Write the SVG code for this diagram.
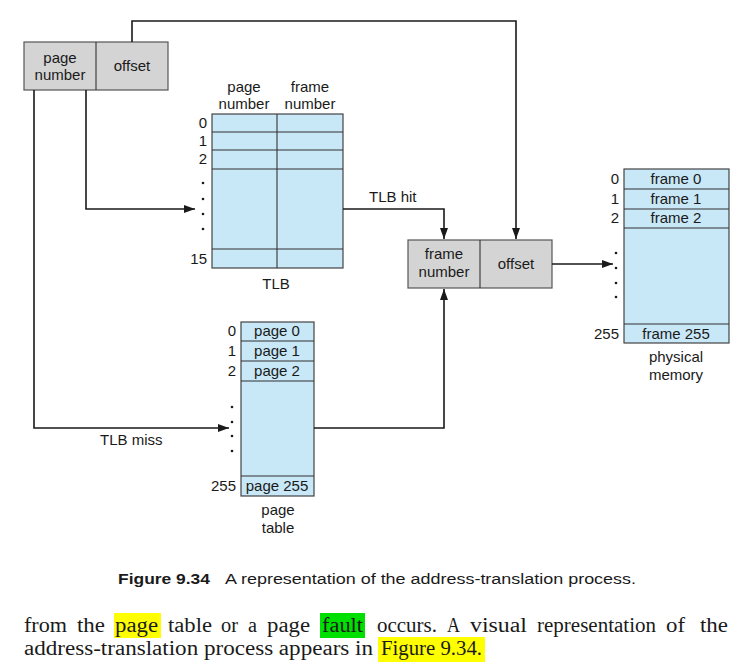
<svg xmlns="http://www.w3.org/2000/svg" width="753" height="668" viewBox="0 0 753 668">
<style>
text{font-family:"Liberation Sans",Arial,sans-serif;font-size:15px;fill:#1a1a1a}
.c{text-anchor:middle}
.r{text-anchor:end}
.gray{fill:#d4d4d4;stroke:#555;stroke-width:1.2}
.blue{fill:#c8e7f7;stroke:#444;stroke-width:1.2}
.ln{stroke:#333;stroke-width:1.1;fill:none}
.wire{stroke:#1a1a1a;stroke-width:1.6;fill:none}
.dot{fill:#1a1a1a}
.cap{font-size:15.5px}
.body{font-family:"Liberation Serif","Times New Roman",serif;font-size:20px;fill:#1a1a1a}
</style>
<defs>
<marker id="ah" markerWidth="12" markerHeight="10" refX="11" refY="5" orient="auto" markerUnits="userSpaceOnUse">
<path d="M0,1 L11,5 L0,9 Z" fill="#1a1a1a"/>
</marker>
</defs>

<g id="logical-address">
<rect class="gray" x="24" y="42" width="144" height="48"/>
<line class="ln" x1="96" y1="42" x2="96" y2="90"/>
<text class="c" x="60" y="63">page</text>
<text class="c" x="60" y="80">number</text>
<text class="c" x="132" y="71">offset</text>
</g>

<g id="tlb">
<rect class="blue" x="212" y="114" width="131" height="154"/>
<line class="ln" x1="212" y1="132" x2="343" y2="132"/>
<line class="ln" x1="212" y1="150" x2="343" y2="150"/>
<line class="ln" x1="212" y1="169" x2="343" y2="169"/>
<line class="ln" x1="212" y1="249" x2="343" y2="249"/>
<line class="ln" x1="277" y1="114" x2="277" y2="268"/>
<text class="c" x="244" y="92">page</text>
<text class="c" x="244" y="109">number</text>
<text class="c" x="310" y="92">frame</text>
<text class="c" x="310" y="109">number</text>
<text class="r" x="207" y="128">0</text>
<text class="r" x="207" y="146">1</text>
<text class="r" x="207" y="164">2</text>
<text class="r" x="207" y="264">15</text>
<circle class="dot" cx="203" cy="183" r="1.3"/>
<circle class="dot" cx="203" cy="199" r="1.3"/>
<circle class="dot" cx="203" cy="214" r="1.3"/>
<circle class="dot" cx="203" cy="229" r="1.3"/>
<text class="c" x="276" y="289">TLB</text>
</g>

<g id="physical-address">
<rect class="gray" x="408" y="240" width="144" height="48"/>
<line class="ln" x1="480" y1="240" x2="480" y2="288"/>
<text class="c" x="444" y="259">frame</text>
<text class="c" x="444" y="277">number</text>
<text class="c" x="516" y="269">offset</text>
</g>

<g id="physical-memory">
<rect class="blue" x="624" y="169" width="105" height="174"/>
<line class="ln" x1="624" y1="189" x2="729" y2="189"/>
<line class="ln" x1="624" y1="209" x2="729" y2="209"/>
<line class="ln" x1="624" y1="228" x2="729" y2="228"/>
<line class="ln" x1="624" y1="324" x2="729" y2="324"/>
<text class="c" x="676" y="184">frame 0</text>
<text class="c" x="676" y="204">frame 1</text>
<text class="c" x="676" y="223">frame 2</text>
<text class="c" x="676" y="339">frame 255</text>
<text class="r" x="619" y="184">0</text>
<text class="r" x="619" y="204">1</text>
<text class="r" x="619" y="223">2</text>
<text class="r" x="619" y="339">255</text>
<circle class="dot" cx="616" cy="253" r="1.3"/>
<circle class="dot" cx="616" cy="268" r="1.3"/>
<circle class="dot" cx="616" cy="283" r="1.3"/>
<circle class="dot" cx="616" cy="297" r="1.3"/>
<text class="c" x="676" y="362">physical</text>
<text class="c" x="676" y="380">memory</text>
</g>

<g id="page-table">
<rect class="blue" x="241" y="322" width="73" height="174"/>
<line class="ln" x1="241" y1="341" x2="314" y2="341"/>
<line class="ln" x1="241" y1="361" x2="314" y2="361"/>
<line class="ln" x1="241" y1="381" x2="314" y2="381"/>
<line class="ln" x1="241" y1="476" x2="314" y2="476"/>
<text class="c" x="277" y="336">page 0</text>
<text class="c" x="277" y="356">page 1</text>
<text class="c" x="277" y="376">page 2</text>
<text class="c" x="277" y="491">page 255</text>
<text class="r" x="236" y="336">0</text>
<text class="r" x="236" y="356">1</text>
<text class="r" x="236" y="376">2</text>
<text class="r" x="236" y="491">255</text>
<circle class="dot" cx="232" cy="407" r="1.3"/>
<circle class="dot" cx="232" cy="422" r="1.3"/>
<circle class="dot" cx="232" cy="436" r="1.3"/>
<circle class="dot" cx="232" cy="451" r="1.3"/>
<text class="c" x="278" y="515">page</text>
<text class="c" x="278" y="533">table</text>
</g>

<g id="connectors">
<polyline class="wire" points="132,42 132,21 516,21 516,239" marker-end="url(#ah)"/>
<polyline class="wire" points="86,90 86,209 195,209" marker-end="url(#ah)"/>
<polyline class="wire" points="34,90 34,428 229,428" marker-end="url(#ah)"/>
<polyline class="wire" points="343,209 444,209 444,239" marker-end="url(#ah)"/>
<polyline class="wire" points="314,428 444,428 444,289" marker-end="url(#ah)"/>
<polyline class="wire" points="552,264 613,264" marker-end="url(#ah)"/>
<text x="369" y="202">TLB hit</text>
<text x="100" y="445">TLB miss</text>
</g>

<g id="caption">
<text class="cap" x="118" y="584" style="font-weight:bold" textLength="92" lengthAdjust="spacingAndGlyphs">Figure 9.34</text>
<text class="cap" x="225" y="584" textLength="411" lengthAdjust="spacingAndGlyphs">A representation of the address-translation process.</text>
</g>

<g id="body-text">
<rect x="114" y="613" width="47" height="25" fill="#ffff00"/>
<rect x="320" y="613" width="45" height="25" fill="#00e000"/>
<rect x="378" y="637" width="107" height="25" fill="#ffff00"/>
<text class="body" x="24" y="632" textLength="43" lengthAdjust="spacingAndGlyphs">from</text>
<text class="body" x="77" y="632" textLength="28" lengthAdjust="spacingAndGlyphs">the</text>
<text class="body" x="115" y="632" textLength="43" lengthAdjust="spacingAndGlyphs">page</text>
<text class="body" x="168" y="632" textLength="44" lengthAdjust="spacingAndGlyphs">table</text>
<text class="body" x="221" y="632" textLength="17" lengthAdjust="spacingAndGlyphs">or</text>
<text class="body" x="248" y="632" textLength="9" lengthAdjust="spacingAndGlyphs">a</text>
<text class="body" x="267" y="632" textLength="43" lengthAdjust="spacingAndGlyphs">page</text>
<text class="body" x="322" y="632" textLength="41" lengthAdjust="spacingAndGlyphs">fault</text>
<text class="body" x="377" y="632" textLength="60" lengthAdjust="spacingAndGlyphs">occurs.</text>
<text class="body" x="447" y="632" textLength="13" lengthAdjust="spacingAndGlyphs">A</text>
<text class="body" x="470" y="632" textLength="57" lengthAdjust="spacingAndGlyphs">visual</text>
<text class="body" x="537" y="632" textLength="119" lengthAdjust="spacingAndGlyphs">representation</text>
<text class="body" x="666" y="632" textLength="19" lengthAdjust="spacingAndGlyphs">of</text>
<text class="body" x="700" y="632" textLength="28" lengthAdjust="spacingAndGlyphs">the</text>
<text class="body" x="24" y="655" textLength="349" lengthAdjust="spacingAndGlyphs">address-translation process appears in</text>
<text class="body" x="381" y="655" textLength="101" lengthAdjust="spacingAndGlyphs">Figure 9.34.</text>
</g>
</svg>
